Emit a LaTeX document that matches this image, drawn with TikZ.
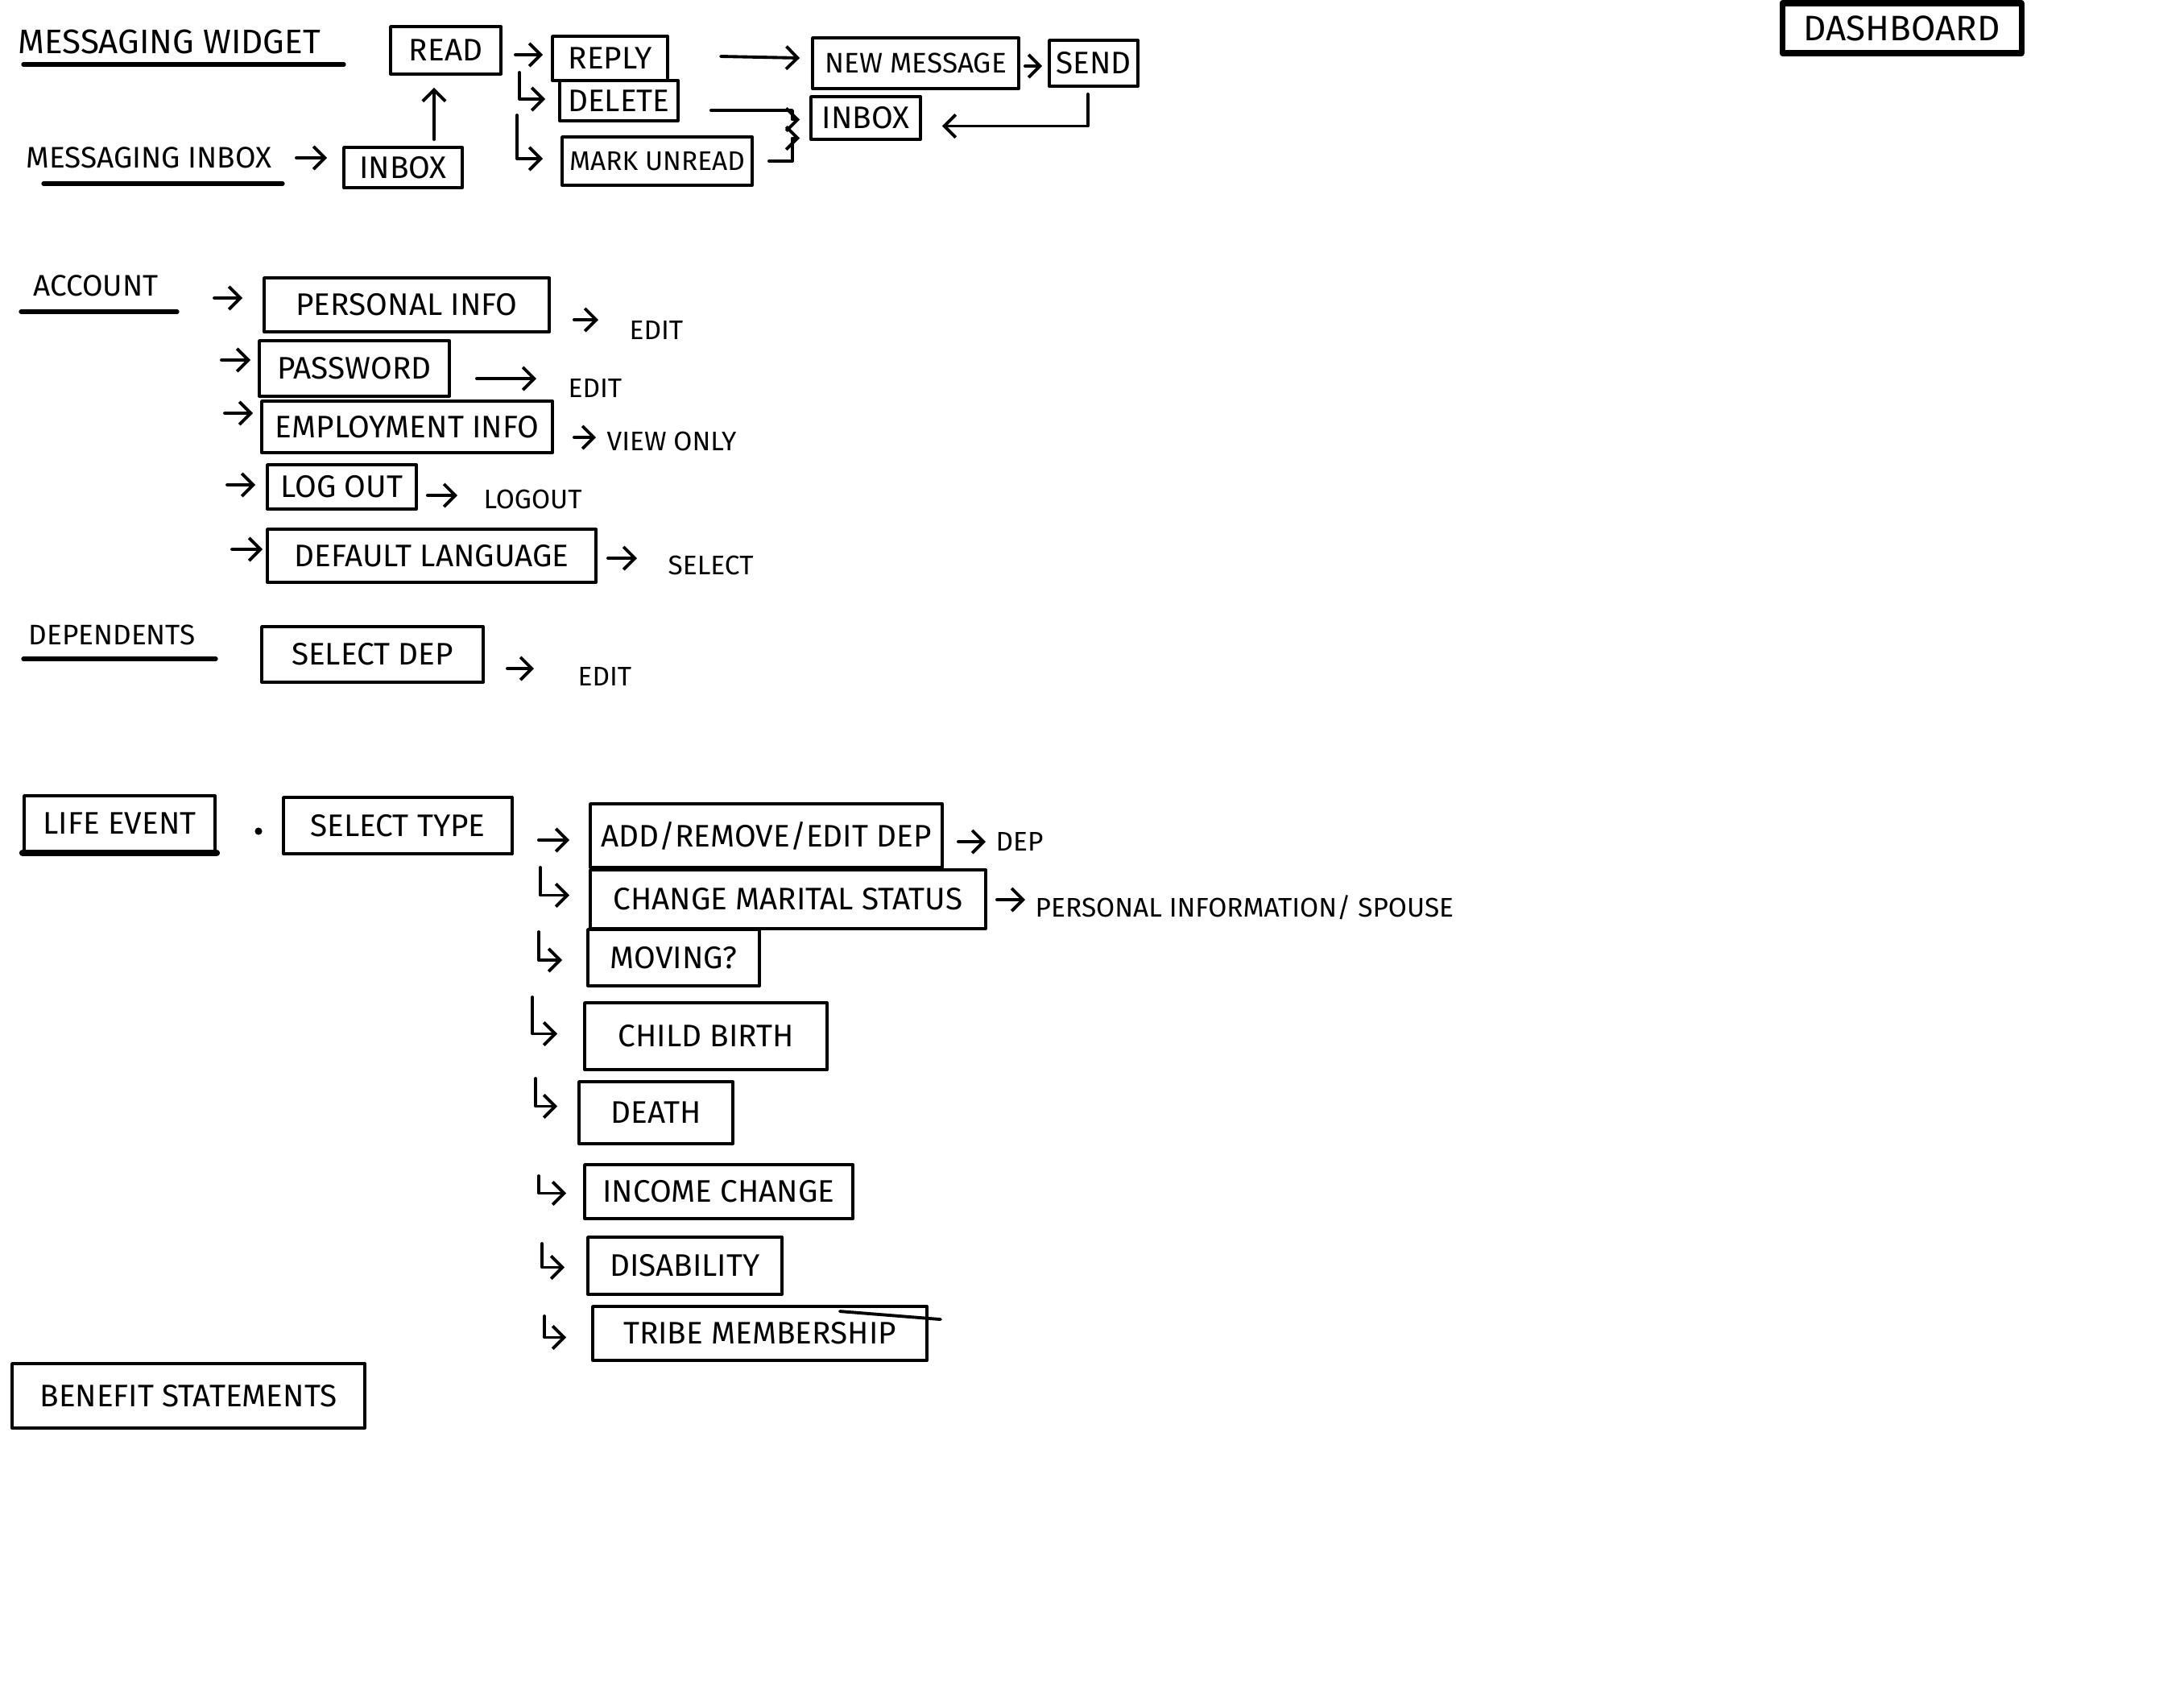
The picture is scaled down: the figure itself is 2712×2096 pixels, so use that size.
\documentclass[tikz,border=0pt]{standalone}
\usepackage{fontspec}
\setmainfont{Fira Sans}
\usetikzlibrary{arrows.meta,calc}
\begin{document}
\begin{tikzpicture}[x=0.01cm,y=-0.01cm,
  pen/.style={line width=1.1pt, line cap=round, line join=round},
  box/.style={draw, pen, inner sep=0pt, font=\fontsize{11}{13}\selectfont},
  sz/.style 2 args={minimum width=#1*0.01cm, minimum height=#2*0.01cm},
  note/.style={inner sep=0pt, anchor=west, font=\fontsize{9.5}{11}\selectfont},
  head/.style={inner sep=0pt, anchor=west, font=\fontsize{10}{12}\selectfont},
  arr/.style={pen, -{Straight Barb[length=4pt,width=8pt]}},
  uline/.style={line width=1.5pt, line cap=round},
]
\useasboundingbox (0,0) rectangle (2712,2096);
\fill[white] (0,0) rectangle (2712,2096);

% ---------- messaging ----------
\node[head, font=\fontsize{12}{14}\selectfont] (mwt) at (22,52) {MESSAGING WIDGET};
\draw[uline] ([shift={(7,28)}]mwt.west) -- ([shift={(405,28)}]mwt.west);
\node[box, sz={137}{59}] (read) at (553.5,62.5) {READ};
\node[box, sz={143}{55}] (reply) at (757.5,72.5) {REPLY};
\node[box, sz={147}{50}] (delete) at (768.5,125) {DELETE};
\node[box, sz={236}{60}, font=\fontsize{9.5}{11}\selectfont] (mark) at (816,200) {MARK UNREAD};
\node[box, sz={256}{63}, font=\fontsize{10}{12}\selectfont] (newmsg) at (1137,78.5) {NEW MESSAGE};
\node[box, sz={110}{57}] (send) at (1358,78.5) {SEND};
\node[box, sz={136}{53}] (inboxr) at (1075,146.5) {INBOX};
\node[head, font=\fontsize{10.5}{12}\selectfont] (mit) at (32,196) {MESSAGING INBOX};
\draw[uline] ([shift={(22,32)}]mit.west) -- ([shift={(319,32)}]mit.west);
\node[box, sz={147}{50}] (inboxl) at (500.5,208) {INBOX};

\draw[arr, shorten <=0.3cm, shorten >=0.19cm] (mit.east) -- (mit.east -| inboxl.west);
\draw[arr] ([shift={(38.5,-8)}]inboxl.north) -- ([shift={(-14.5,15)}]read.south);
\draw[arr] ([shift={(16,5.5)}]read.east) -- ([shift={(-10,-4.5)}]reply.west);
\draw[arr] ([shift={(-48,-35)}]delete.west) |- ([shift={(-16,-2)}]delete.west);
\draw[arr] ([shift={(-54,-57)}]mark.west) |- ([shift={(-22,-3)}]mark.west);
\draw[arr] ([shift={(64,-2.5)}]reply.east) -- ([shift={(-14,-6.5)}]newmsg.west);
\draw[arr] ([shift={(6,3.5)}]newmsg.east) -- ([shift={(-7,3.5)}]send.west);
\draw[arr] ([shift={(-7,8)}]send.south) |- ([shift={(25,10)}]inboxr.east);
\draw[arr] ([shift={(39,12)}]delete.east) -- ++(101,0) |- ([shift={(-12,2)}]inboxr.west);
\draw[arr] ([shift={(19,0)}]mark.east) -- ++(29,0) |- ([shift={(-12,25)}]inboxr.west);

% ---------- dashboard ----------
\node[box, line width=2pt, sz={297}{62}, font=\fontsize{12.5}{15}\selectfont] (dash) at (2361.5,35) {DASHBOARD};

% ---------- account ----------
\node[head, font=\fontsize{10.5}{12}\selectfont] (acct) at (41,355) {ACCOUNT};
\draw[uline] ([shift={(-15,32)}]acct.west) -- ([shift={(179,32)}]acct.west);
\node[box, sz={354}{67}] (pinfo) at (505,378.5) {PERSONAL INFO};
\node[box, sz={236}{69}] (pw) at (440,457.5) {PASSWORD};
\node[box, sz={361}{64}] (emp) at (505.5,530) {EMPLOYMENT INFO};
\node[box, sz={185}{55}] (logoutb) at (424.5,604.5) {LOG OUT};
\node[box, sz={408}{66}] (lang) at (536,690) {DEFAULT LANGUAGE};
\node[note] (edita) at (781,410) {EDIT};
\node[note] (editb) at (705,482) {EDIT};
\node[note] (view) at (753,548) {VIEW ONLY};
\node[note] (logoutt) at (600,620) {LOGOUT};
\node[note] (sel) at (829,702) {SELECT};

\draw[arr] ([shift={(-60,-8.5)}]pinfo.west) -- ([shift={(-25,-8.5)}]pinfo.west);
\draw[arr] ([shift={(-45,-10.5)}]pw.west) -- ([shift={(-9,-10.5)}]pw.west);
\draw[arr] ([shift={(-44,-17)}]emp.west) -- ([shift={(-9,-17)}]emp.west);
\draw[arr] ([shift={(-48,-2.5)}]logoutb.west) -- ([shift={(-13,-2.5)}]logoutb.west);
\draw[arr] ([shift={(-42,-8)}]lang.west) -- ([shift={(-4,-8)}]lang.west);

\draw[arr] ([shift={(29,18.5)}]pinfo.east) -- ([shift={(-38,-13)}]edita.west);
\draw[arr] ([shift={(32,12.5)}]pw.east) -- ([shift={(-39,-12)}]editb.west);
\draw[arr] ([shift={(25,13)}]emp.east) -- ([shift={(-13,-5)}]view.west);
\draw[arr] ([shift={(12,10.5)}]logoutb.east) -- ([shift={(-32,-5)}]logoutt.west);
\draw[arr] ([shift={(13,3)}]lang.east) -- ([shift={(-38,-9)}]sel.west);

% ---------- dependents ----------
\node[head] (deps) at (35,788) {DEPENDENTS};
\draw[uline] ([shift={(-6,30)}]deps.west) -- ([shift={(233,30)}]deps.west);
\node[box, sz={275}{69}] (seldep) at (462.5,812.5) {SELECT DEP};
\node[note] (editc) at (717,840) {EDIT};
\draw[arr] ([shift={(28,17.5)}]seldep.east) -- ([shift={(-54,-10)}]editc.west);

% ---------- life events ----------
\node[box, sz={237}{69}] (life) at (148.5,1022.5) {LIFE EVENT};
\draw[line width=2.4pt, line cap=round] (life.south west) -- (life.south east);
\fill (321,1032) circle[radius=1.3pt];
\node[box, sz={284}{70}] (seltype) at (494,1025) {SELECT TYPE};
\node[box, sz={437}{79}] (adddep) at (951.5,1037.5) {ADD/REMOVE/EDIT DEP};
\node[note] (depn) at (1236,1045) {DEP};
\node[box, sz={491}{73}] (marital) at (978.5,1116.5) {CHANGE MARITAL STATUS};
\node[note] (spouse) at (1285,1127) {PERSONAL INFORMATION/ SPOUSE};
\node[box, sz={213}{70}] (moving) at (836.5,1189) {MOVING?};
\node[box, sz={301}{83}] (child) at (876.5,1286.5) {CHILD BIRTH};
\node[box, sz={191}{77}] (death) at (814.5,1381.5) {DEATH};
\node[box, sz={333}{67}] (income) at (892.5,1479.5) {INCOME CHANGE};
\node[box, sz={241}{71}] (disab) at (850.5,1571.5) {DISABILITY};
\node[box, sz={415}{67}] (tribe) at (943.5,1655.5) {TRIBE MEMBERSHIP};
\draw[pen] ([shift={(-110,8)}]tribe.north east) -- ([shift={(15,18)}]tribe.north east);

\draw[arr] ([shift={(31,18)}]seltype.east) -- ([shift={(-24,5.5)}]adddep.west);
\draw[arr] ([shift={(18,7.5)}]adddep.east) -- ([shift={(-12,0)}]depn.west);
\draw[arr] ([shift={(12,0.5)}]marital.east) -- ([shift={(-12,-10)}]spouse.west);

\draw[arr] ([shift={(-60,-39.5)}]marital.west) |- ([shift={(-24,-5)}]marital.west);
\draw[arr] ([shift={(-59,-32)}]moving.west) |- ([shift={(-30,3)}]moving.west);
\draw[arr] ([shift={(-63,-48.5)}]child.west) |- ([shift={(-32,-3)}]child.west);
\draw[arr] ([shift={(-52,-42.5)}]death.west) |- ([shift={(-25,-8)}]death.west);
\draw[arr] ([shift={(-55,-19.5)}]income.west) |- ([shift={(-21,2)}]income.west);
\draw[arr] ([shift={(-55,-27.5)}]disab.west) |- ([shift={(-27,2)}]disab.west);
\draw[arr] ([shift={(-58,-21.5)}]tribe.west) |- ([shift={(-31,5)}]tribe.west);

% ---------- benefit statements ----------
\node[box, sz={438}{80}] (benefit) at (234,1733) {BENEFIT STATEMENTS};
\end{tikzpicture}
\end{document}
